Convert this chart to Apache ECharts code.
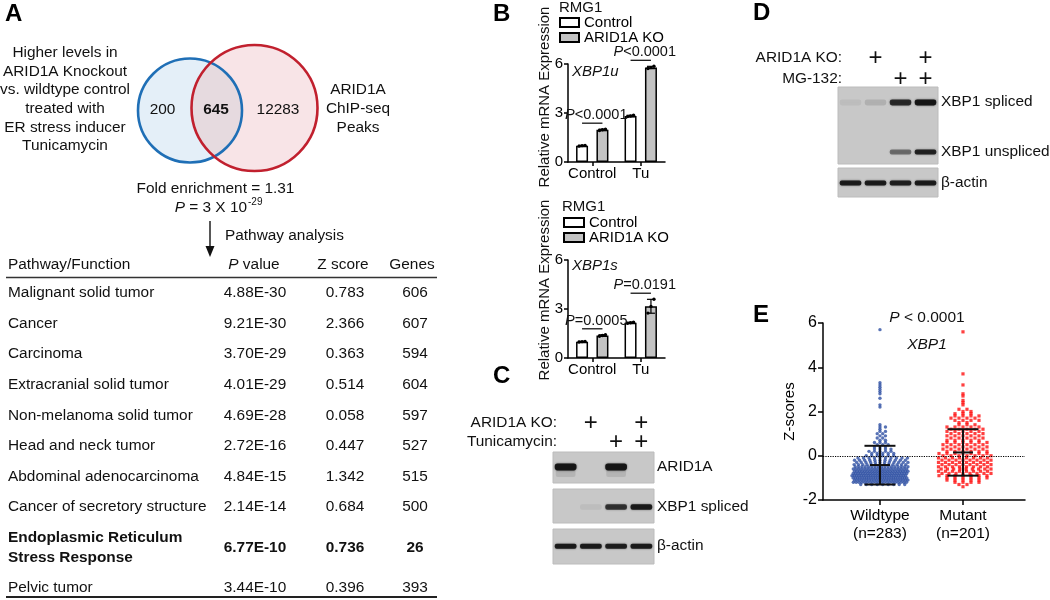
<!DOCTYPE html>
<html>
<head>
<meta charset="utf-8">
<script src="https://cdn.jsdelivr.net/npm/echarts@6/dist/echarts.min.js"></script>
<style>
html,body{margin:0;padding:0;background:#fff;}
#chart{width:1050px;height:600px;}
</style>
</head>
<body>
<div id="chart"></div>
<script>
// ---------------- DATA ----------------
// Panel A: Venn
const vennLeftLabel = ['Higher levels in', 'ARID1A Knockout', 'vs. wildtype control', 'treated with', 'ER stress inducer', 'Tunicamycin'];
const vennRightLabel = ['ARID1A', 'ChIP-seq', 'Peaks'];
const vennCounts = ['200', '645', '12283'];
const foldEnrichment = '1.31';
const enrichmentPBase = '3 X 10';
const enrichmentPExp = '-29';
// Panel A: pathway table
const tableHeader = ['Pathway/Function', 'P value', 'Z score', 'Genes'];
const pathways = ['Malignant solid tumor', 'Cancer', 'Carcinoma', 'Extracranial solid tumor', 'Non-melanoma solid tumor',
  'Head and neck tumor', 'Abdominal adenocarcinoma', 'Cancer of secretory structure',
  'Endoplasmic Reticulum\nStress Response', 'Pelvic tumor'];
const pathwayP = ['4.88E-30', '9.21E-30', '3.70E-29', '4.01E-29', '4.69E-28', '2.72E-16', '4.84E-15', '2.14E-14', '6.77E-10', '3.44E-10'];
const pathwayZ = ['0.783', '2.366', '0.363', '0.514', '0.058', '0.447', '1.342', '0.684', '0.736', '0.396'];
const pathwayGenes = ['606', '607', '594', '604', '597', '527', '515', '500', '26', '393'];
const highlightedPathway = 'Endoplasmic Reticulum\nStress Response';

// Panel B: qPCR (replicates per category: Control, Tu)
const bCategories = ['Control', 'Tu'];
const bSeriesNames = ['Control', 'ARID1A KO'];
const xbp1uControl = [[0.97, 1.00, 1.02], [2.78, 2.82, 2.86]];
const xbp1uKO = [[1.93, 1.97, 2.01], [5.72, 5.78, 5.86]];
const xbp1uP = ['<0.0001', '<0.0001'];
const xbp1sControl = [[0.98, 1.00, 1.02], [2.12, 2.16, 2.19]];
const xbp1sKO = [[1.33, 1.38, 1.42], [2.75, 3.15, 3.60]];
const xbp1sP = ['=0.0005', '=0.0191'];

// Panel C: western blot (4 lanes)
const cKO = [0, 1, 0, 1];
const cTunicamycin = [0, 0, 1, 1];
const cARID1A = [0.95, 0, 0.95, 0];
const cXBP1s = [0, 0.06, 0.75, 0.9];
const cActin = [0.9, 0.9, 0.88, 0.9];

// Panel D: western blot (4 lanes)
const dKO = [0, 1, 0, 1];
const dMG132 = [0, 0, 1, 1];
const dXBP1s = [0.06, 0.12, 0.8, 0.95];
const dXBP1u = [0, 0, 0.45, 0.85];
const dActin = [0.9, 0.9, 0.88, 0.9];

// Panel E: Z-scores, [z value, number of samples at that value]
const eGroups = ['Wildtype', 'Mutant'];
const eN = [283, 201];
const wildtypeBins = [[5.7,1],[3.3,1],[3.2,1],[3.1,1],[3.0,1],[2.9,1],[2.8,1],[2.6,1],[2.3,1],[2.2,1],
  [1.4,1],[1.3,2],[1.2,1],[1.1,2],[1.0,2],[0.9,2],[0.8,2],[0.7,2],[0.6,3],[0.5,3],[0.4,3],[0.3,4],[0.2,5],[0.1,5],[0.0,6],
  [-0.1,10],[-0.2,11],[-0.3,12],[-0.4,13],[-0.5,17],[-0.6,21],[-0.7,22],[-0.8,23],[-0.9,24],[-1.0,25],[-1.1,23],[-1.2,20],[-1.3,9]];
const mutantBins = [[5.6,1],[3.7,1],[3.2,1],[2.8,1],[2.7,1],[2.5,1],[2.4,1],[2.3,1],
  [2.1,2],[2.0,2],[1.9,3],[1.8,4],[1.7,4],[1.6,4],[1.5,2],[1.4,3],[1.3,5],[1.2,5],[1.1,5],[1.0,5],[0.9,5],[0.8,5],[0.7,5],
  [0.6,6],[0.5,6],[0.4,6],[0.3,6],[0.2,6],[0.1,7],[0.0,7],[-0.1,8],[-0.2,8],[-0.3,8],[-0.4,8],[-0.5,8],
  [-0.6,9],[-0.7,8],[-0.8,8],[-0.9,7],[-1.0,6],[-1.1,5],[-1.2,4],[-1.3,2],[-1.4,1]];
const wildtypeStats = [-0.42, 0.45, -1.3];   // mean, +SD, -SD
const mutantStats = [0.15, 1.2, -0.9];
const ePLabel = '< 0.0001';
const eGene = 'XBP1';

// ---------------- LAYOUT / STYLE ----------------
const FONT = '"Liberation Sans", Arial, Helvetica, sans-serif';
const INK = '#111';
const FS = 15.4;

function T(x, y, text, o) {
  o = o || {};
  const align = o.align || 'left', va = o.va || 'middle';
  const st = Object.assign({ text: text, fill: INK, fontFamily: FONT, fontSize: FS, fontWeight: 'normal', fontStyle: 'normal' }, o.style || {});
  st.align = align; st.textAlign = align; st.verticalAlign = va; st.textVerticalAlign = va;
  return { type: 'text', x: x, y: y, rotation: o.rotation || 0, silent: true, z: 20, style: st };
}

const graphics = [];
// panel letters
[['A', 5, 14], ['B', 493, 14], ['C', 493, 376], ['D', 753, 13], ['E', 753, 315]].forEach(function (l) {
  graphics.push(T(l[1], l[2], l[0], { style: { fontSize: 24, fontWeight: 'bold', fill: '#000' } }));
});

// ---- Venn ----
const C1 = { x: 190, y: 110.5, r: 52 }, C2 = { x: 254.5, y: 108, r: 63 };
(function () {
  const dx = C2.x - C1.x, dy = C2.y - C1.y, d = Math.sqrt(dx * dx + dy * dy);
  const a = (C1.r * C1.r - C2.r * C2.r + d * d) / (2 * d);
  const h = Math.sqrt(C1.r * C1.r - a * a);
  const mx = C1.x + a * dx / d, my = C1.y + a * dy / d;
  const p1 = [mx + h * dy / d, my - h * dx / d]; // top
  const p2 = [mx - h * dy / d, my + h * dx / d]; // bottom
  const pts = [];
  let s = Math.atan2(p1[1] - C1.y, p1[0] - C1.x), e = Math.atan2(p2[1] - C1.y, p2[0] - C1.x);
  if (e < s) e += Math.PI * 2;
  for (let i = 0; i <= 40; i++) { const t = s + (e - s) * i / 40; pts.push([C1.x + C1.r * Math.cos(t), C1.y + C1.r * Math.sin(t)]); }
  s = Math.atan2(p2[1] - C2.y, p2[0] - C2.x); e = Math.atan2(p1[1] - C2.y, p1[0] - C2.x);
  if (e < s) e += Math.PI * 2;
  for (let i = 0; i <= 40; i++) { const t = s + (e - s) * i / 40; pts.push([C2.x + C2.r * Math.cos(t), C2.y + C2.r * Math.sin(t)]); }
  graphics.push({ type: 'circle', silent: true, z: 1, shape: { cx: C1.x, cy: C1.y, r: C1.r }, style: { fill: '#e4eff8' } });
  graphics.push({ type: 'circle', silent: true, z: 2, shape: { cx: C2.x, cy: C2.y, r: C2.r }, style: { fill: '#f8e4e7' } });
  graphics.push({ type: 'polygon', silent: true, z: 3, shape: { points: pts }, style: { fill: '#e6dadf' } });
  graphics.push({ type: 'circle', silent: true, z: 4, shape: { cx: C1.x, cy: C1.y, r: C1.r }, style: { fill: 'none', stroke: '#1f6fb6', lineWidth: 2.6 } });
  graphics.push({ type: 'circle', silent: true, z: 5, shape: { cx: C2.x, cy: C2.y, r: C2.r }, style: { fill: 'none', stroke: '#c1202e', lineWidth: 2.6 } });
})();
vennLeftLabel.forEach(function (t, i) { graphics.push(T(65, 53 + i * 18.6, t, { align: 'center' })); });
vennRightLabel.forEach(function (t, i) { graphics.push(T(358, 90 + i * 19, t, { align: 'center' })); });
graphics.push(T(162.5, 110, vennCounts[0], { align: 'center' }));
graphics.push(T(216, 110, vennCounts[1], { align: 'center', style: { fontWeight: 'bold' } }));
graphics.push(T(278, 110, vennCounts[2], { align: 'center' }));
graphics.push(T(215.5, 189, 'Fold enrichment = ' + foldEnrichment, { align: 'center' }));
graphics.push(T(247, 208, '{i|P} = ' + enrichmentPBase, { align: 'right', style: { rich: { i: { fontStyle: 'italic', fontFamily: FONT, fontSize: FS, fill: INK } } } }));
graphics.push(T(248, 202, enrichmentPExp, { align: 'left', style: { fontSize: 10 } }));
graphics.push({ type: 'line', silent: true, shape: { x1: 210, y1: 221, x2: 210, y2: 249 }, style: { stroke: INK, lineWidth: 1.4 } });
graphics.push({ type: 'polygon', silent: true, shape: { points: [[205.5, 246], [214.5, 246], [210, 257]] }, style: { fill: INK } });
graphics.push(T(225, 236, 'Pathway analysis'));

// ---- Table ----
const colX = [8, 254, 343, 412];
const rowColX = [8, 255, 345, 415];
graphics.push(T(colX[0], 265, tableHeader[0]));
graphics.push(T(colX[1], 265, '{i|P} value', { align: 'center', style: { rich: { i: { fontStyle: 'italic', fontFamily: FONT, fontSize: FS, fill: INK } } } }));
graphics.push(T(colX[2], 265, tableHeader[2], { align: 'center' }));
graphics.push(T(colX[3], 265, tableHeader[3], { align: 'center' }));
graphics.push({ type: 'line', silent: true, shape: { x1: 6, y1: 277.5, x2: 437, y2: 277.5 }, style: { stroke: '#333', lineWidth: 1.5 } });
(function () {
  let y = 293;
  const step = 30.6, extra = 9.7;
  pathways.forEach(function (name, i) {
    const multi = name.indexOf('\n') >= 0;
    if (multi) y += extra;
    const bold = name === highlightedPathway;
    const st = bold ? { fontWeight: 'bold' } : {};
    graphics.push(T(rowColX[0], y, name, { style: Object.assign({ lineHeight: 20 }, st) }));
    graphics.push(T(rowColX[1], y, pathwayP[i], { align: 'center', style: st }));
    graphics.push(T(rowColX[2], y, pathwayZ[i], { align: 'center', style: st }));
    graphics.push(T(rowColX[3], y, pathwayGenes[i], { align: 'center', style: st }));
    if (multi) y += extra;
    y += step;
  });
})();
graphics.push({ type: 'line', silent: true, shape: { x1: 6, y1: 597, x2: 437, y2: 597 }, style: { stroke: '#222', lineWidth: 2 } });

// ---- Panel B texts ----
graphics.push(T(545, 97, 'Relative mRNA Expression', { align: 'center', rotation: Math.PI / 2, style: { fontSize: 15 } }));
graphics.push(T(545, 290, 'Relative mRNA Expression', { align: 'center', rotation: Math.PI / 2, style: { fontSize: 15 } }));
graphics.push(T(559, 8, 'RMG1', { style: { fontSize: 15 } }));
graphics.push(T(562, 207, 'RMG1', { style: { fontSize: 15 } }));
graphics.push(T(572, 72, 'XBP1u', { style: { fontSize: 15, fontStyle: 'italic' } }));
graphics.push(T(572, 266, 'XBP1s', { style: { fontSize: 15, fontStyle: 'italic' } }));

// ---- Panel C / D texts ----
graphics.push(T(557, 423, 'ARID1A KO:', { align: 'right' }));
graphics.push(T(557, 442, 'Tunicamycin:', { align: 'right' }));
graphics.push(T(657, 467, 'ARID1A'));
graphics.push(T(657, 507, 'XBP1 spliced'));
graphics.push(T(657, 546, 'β-actin'));
graphics.push(T(842, 58, 'ARID1A KO:', { align: 'right' }));
graphics.push(T(842, 79, 'MG-132:', { align: 'right' }));
graphics.push(T(941, 102, 'XBP1 spliced'));
graphics.push(T(941, 152, 'XBP1 unspliced'));
graphics.push(T(941, 183, 'β-actin'));

// ---- Panel E texts ----
graphics.push(T(927, 318, '{i|P} ' + ePLabel, { align: 'center', style: { fontSize: 15.5, rich: { i: { fontStyle: 'italic', fontFamily: FONT, fontSize: 15.5, fill: INK } } } }));
graphics.push(T(927, 345, eGene, { align: 'center', style: { fontSize: 15.5, fontStyle: 'italic' } }));

// ---------------- SERIES HELPERS ----------------
const BAR_W = 12, BAR_GAP = 0.7;
const BAR_OFF = BAR_W * (1 + BAR_GAP) / 2;
function mean(a) { return a.reduce(function (s, v) { return s + v; }, 0) / a.length; }
function sd(a) { const m = mean(a); return Math.sqrt(a.reduce(function (s, v) { return s + (v - m) * (v - m); }, 0) / (a.length - 1)); }

function barSeries(name, reps, idx, color) {
  return { type: 'bar', name: name, xAxisIndex: idx, yAxisIndex: idx, barWidth: BAR_W, barGap: (BAR_GAP * 100) + '%',
    data: reps.map(mean), itemStyle: { color: color, borderColor: '#000', borderWidth: 1.5 }, z: 2 };
}
function errSeries(ctrl, ko, idx) {
  const data = [];
  [ctrl, ko].forEach(function (g, s) { g.forEach(function (r, c) { data.push([c, s, r[0], r[1], r[2]]); }); });
  return { type: 'custom', xAxisIndex: idx, yAxisIndex: idx, data: data, z: 5, clip: false, silent: true,
    renderItem: function (p, api) {
      const c = api.value(0), s = api.value(1);
      const r = [api.value(2), api.value(3), api.value(4)];
      const m = mean(r), e = sd(r);
      const x = api.coord([c, m])[0] + (s === 0 ? -BAR_OFF : BAR_OFF);
      const yt = api.coord([c, m + e])[1], yb = api.coord([c, m - e])[1];
      const ch = [
        { type: 'line', shape: { x1: x, y1: yt, x2: x, y2: yb }, style: { stroke: '#000', lineWidth: 1.2 } },
        { type: 'line', shape: { x1: x - 4, y1: yt, x2: x + 4, y2: yt }, style: { stroke: '#000', lineWidth: 1.2 } },
        { type: 'line', shape: { x1: x - 4, y1: yb, x2: x + 4, y2: yb }, style: { stroke: '#000', lineWidth: 1.2 } }
      ];
      [-3, 0, 3].forEach(function (o, k) {
        ch.push({ type: 'circle', shape: { cx: x + o, cy: api.coord([c, r[k]])[1], r: 1.7 }, style: { fill: '#000' } });
      });
      return { type: 'group', children: ch };
    } };
}
function pSeries(ctrl, ko, texts, idx) {
  return { type: 'custom', xAxisIndex: idx, yAxisIndex: idx, data: texts.map(function (t, c) { return [c, Math.max.apply(null, ctrl[c].concat(ko[c])), c]; }),
    z: 6, clip: false, silent: true,
    renderItem: function (p, api) {
      const c = api.value(0);
      const pt = api.coord([c, api.value(1)]);
      const y = pt[1] - 6;
      const t = texts[api.value(2)];
      return { type: 'group', children: [
        { type: 'line', shape: { x1: pt[0] - BAR_OFF, y1: y, x2: pt[0] + BAR_OFF, y2: y }, style: { stroke: '#000', lineWidth: 1.2 } },
        { type: 'text', x: pt[0] + 4, y: y - 8, style: { text: '{i|P}' + t, fontFamily: FONT, fontSize: 14.5, fill: INK,
          align: 'center', textAlign: 'center', verticalAlign: 'middle', textVerticalAlign: 'middle',
          rich: { i: { fontStyle: 'italic', fontFamily: FONT, fontSize: 14.5, fill: INK } } } }
      ] };
    } };
}
function blotSeries(idx, vals, pos, h, smear) {
  return { type: 'custom', xAxisIndex: idx, yAxisIndex: idx, data: vals.map(function (v, i) { return [i, v]; }), silent: true, clip: true, z: 3,
    renderItem: function (p, api) {
      const v = api.value(1);
      if (!(v > 0)) return null;
      const c = api.coord([api.value(0), pos]);
      const lw = api.size([1, 0])[0];
      const w = lw * 0.86;
      const ch = [];
      if (smear) ch.push({ type: 'rect', shape: { x: c[0] - w / 2 + 1, y: c[1], width: w - 2, height: smear, r: 2 }, style: { fill: 'rgba(40,40,40,' + (v * 0.12) + ')', shadowBlur: 3, shadowColor: 'rgba(40,40,40,0.1)' } });
      ch.push({ type: 'rect', shape: { x: c[0] - w / 2, y: c[1] - h / 2, width: w, height: h, r: h / 2.5 }, style: { fill: 'rgba(18,18,18,' + v + ')', shadowBlur: 2, shadowColor: 'rgba(18,18,18,' + (v * 0.7) + ')' } });
      return { type: 'group', children: ch };
    } };
}
function plusSeries(idx, flags, above) {
  return { type: 'custom', xAxisIndex: idx, yAxisIndex: idx, data: flags.map(function (f, i) { return [i, f]; }), silent: true, clip: false, z: 4,
    renderItem: function (p, api) {
      if (!api.value(1)) return null;
      const c = api.coord([api.value(0), 1]);
      return { type: 'text', x: c[0], y: c[1] - above, style: { text: '+', fontFamily: FONT, fontSize: 24, fill: INK,
        align: 'center', textAlign: 'center', verticalAlign: 'middle', textVerticalAlign: 'middle' } };
    } };
}

// ---------------- PANEL E points ----------------
const E_LEFT = 823, E_W = 202;
const eCenters = [0.282, 0.693];
function swarm(bins, center, maxStep) {
  const pts = [];
  bins.forEach(function (b, row) {
    const n = b[1];
    const step = Math.min(maxStep, 56 / n);
    const shift = (n > 1 && row % 2) ? step / 2 : 0;
    for (let i = 0; i < n; i++) {
      let px = (i - (n - 1) / 2) * step + shift;
      if (px > 28) px -= step * n;
      pts.push([center + px / E_W, b[0]]);
    }
  });
  return pts;
}
function statSeries(stats, center, idx) {
  return { type: 'custom', xAxisIndex: idx, yAxisIndex: idx, data: [[center, stats[0], stats[1], stats[2]]], z: 8, silent: true,
    renderItem: function (p, api) {
      const c = api.value(0);
      const pm = api.coord([c, api.value(1)]), ph = api.coord([c, api.value(2)]), pl = api.coord([c, api.value(3)]);
      const st = { stroke: '#111', lineWidth: 2 };
      return { type: 'group', children: [
        { type: 'line', shape: { x1: pm[0], y1: ph[1], x2: pm[0], y2: pl[1] }, style: st },
        { type: 'line', shape: { x1: pm[0] - 15.5, y1: ph[1], x2: pm[0] + 15.5, y2: ph[1] }, style: st },
        { type: 'line', shape: { x1: pm[0] - 15.5, y1: pl[1], x2: pm[0] + 15.5, y2: pl[1] }, style: st },
        { type: 'line', shape: { x1: pm[0] - 10, y1: pm[1], x2: pm[0] + 10, y2: pm[1] }, style: st }
      ] };
    } };
}

// ---------------- AXES ----------------
const axisLineBlack = { show: true, onZero: false, lineStyle: { color: '#000', width: 1.5 } };
function barX(g) {
  return { gridIndex: g, type: 'category', data: bCategories, axisLine: axisLineBlack,
    axisTick: { show: true, alignWithLabel: true, interval: 0, length: 4, lineStyle: { color: '#000', width: 1.5 } },
    axisLabel: { color: '#000', fontSize: 15, fontFamily: FONT, margin: 4, interval: 0 } };
}
function barY(g) {
  return { gridIndex: g, type: 'value', min: 0, max: 6, interval: 3, axisLine: axisLineBlack,
    axisTick: { show: true, length: 4, lineStyle: { color: '#000', width: 1.5 } },
    axisLabel: { color: '#000', fontSize: 15, fontFamily: FONT, margin: 5 }, splitLine: { show: false } };
}
function hidX(g) { return { gridIndex: g, type: 'category', data: ['1', '2', '3', '4'], show: false }; }
function hidY(g) { return { gridIndex: g, type: 'value', min: 0, max: 1, show: false }; }

const blotGrid = function (l, t, w, h) { return { left: l, top: t, width: w, height: h, show: true, backgroundColor: '#c8c8c8', borderColor: '#bcbcbc', borderWidth: 1 }; };

const option = {
  animation: false,
  backgroundColor: '#fff',
  textStyle: { fontFamily: FONT },
  grid: [
    { left: 568, top: 64, width: 97, height: 98 },
    { left: 568, top: 260, width: 97, height: 98 },
    { left: E_LEFT, top: 323, width: E_W, height: 177 },
    blotGrid(553, 452, 101, 31),
    blotGrid(553, 489, 101, 34),
    blotGrid(553, 529, 101, 35),
    blotGrid(838, 87, 100, 77),
    blotGrid(838, 168, 100, 29)
  ],
  xAxis: [
    barX(0), barX(1),
    { gridIndex: 2, type: 'value', min: 0, max: 1, axisLine: axisLineBlack,
      axisTick: { show: true, customValues: eCenters, length: 5, lineStyle: { color: '#000', width: 1.5 } },
      axisLabel: { customValues: eCenters, color: '#000', fontSize: 15.5, fontFamily: FONT, lineHeight: 18, margin: 7,
        formatter: function (v) { for (let i = 0; i < eCenters.length; i++) { if (Math.abs(v - eCenters[i]) < 1e-6) return eGroups[i] + '\n(n=' + eN[i] + ')'; } return ''; } },
      splitLine: { show: false } },
    hidX(3), hidX(4), hidX(5), hidX(6), hidX(7)
  ],
  yAxis: [
    barY(0), barY(1),
    { gridIndex: 2, type: 'value', min: -2, max: 6, interval: 2, axisLine: axisLineBlack,
      axisTick: { show: true, length: 5, lineStyle: { color: '#000', width: 1.5 } },
      axisLabel: { color: '#000', fontSize: 16, fontFamily: FONT, margin: 6 }, splitLine: { show: false },
      name: 'Z-scores', nameLocation: 'middle', nameGap: 26, nameRotate: 90,
      nameTextStyle: { color: '#000', fontSize: 15, fontFamily: FONT } },
    hidY(3), hidY(4), hidY(5), hidY(6), hidY(7)
  ],
  legend: [
    { left: 559, top: 15, orient: 'vertical', data: bSeriesNames, icon: 'rect', itemWidth: 19, itemHeight: 9, itemGap: 0, padding: 0,
      selectedMode: false, textStyle: { fontSize: 15, lineHeight: 15, color: '#000', fontFamily: FONT } },
    { left: 563, top: 215, orient: 'vertical', data: bSeriesNames, icon: 'rect', itemWidth: 20, itemHeight: 9, itemGap: 0, padding: 0,
      selectedMode: false, textStyle: { fontSize: 15, lineHeight: 15, color: '#000', fontFamily: FONT } }
  ],
  series: [
    barSeries(bSeriesNames[0], xbp1uControl, 0, '#ffffff'),
    barSeries(bSeriesNames[1], xbp1uKO, 0, '#c3c3c3'),
    errSeries(xbp1uControl, xbp1uKO, 0),
    pSeries(xbp1uControl, xbp1uKO, xbp1uP, 0),
    barSeries(bSeriesNames[0], xbp1sControl, 1, '#ffffff'),
    barSeries(bSeriesNames[1], xbp1sKO, 1, '#c3c3c3'),
    errSeries(xbp1sControl, xbp1sKO, 1),
    pSeries(xbp1sControl, xbp1sKO, xbp1sP, 1),
    { type: 'scatter', name: eGroups[0], xAxisIndex: 2, yAxisIndex: 2, data: swarm(wildtypeBins, eCenters[0], 5.5), symbol: 'circle', symbolSize: 3.4,
      itemStyle: { color: '#2d4fa3' }, silent: true, z: 3,
      markLine: { silent: true, symbol: 'none', data: [{ yAxis: 0 }], label: { show: false }, lineStyle: { type: 'dotted', color: '#000', width: 1.2 } } },
    { type: 'scatter', name: eGroups[1], xAxisIndex: 2, yAxisIndex: 2, data: swarm(mutantBins, eCenters[1], 8), symbol: 'rect', symbolSize: 3.2,
      itemStyle: { color: '#ff1010' }, silent: true, z: 3 },
    statSeries(wildtypeStats, eCenters[0], 2),
    statSeries(mutantStats, eCenters[1], 2),
    blotSeries(3, cARID1A, 0.52, 7, 10),
    blotSeries(4, cXBP1s, 0.47, 5.5, 0),
    blotSeries(5, cActin, 0.51, 5, 0),
    plusSeries(3, cKO, 29),
    plusSeries(3, cTunicamycin, 10),
    blotSeries(6, dXBP1s, 0.8, 6, 0),
    blotSeries(6, dXBP1u, 0.156, 5, 0),
    blotSeries(7, dActin, 0.48, 5, 0),
    plusSeries(6, dKO, 29),
    plusSeries(6, dMG132, 8)
  ],
  graphic: { elements: graphics }
};

const chart = echarts.init(document.getElementById('chart'), null, { renderer: 'canvas' });
chart.setOption(option);
</script>
</body>
</html>
